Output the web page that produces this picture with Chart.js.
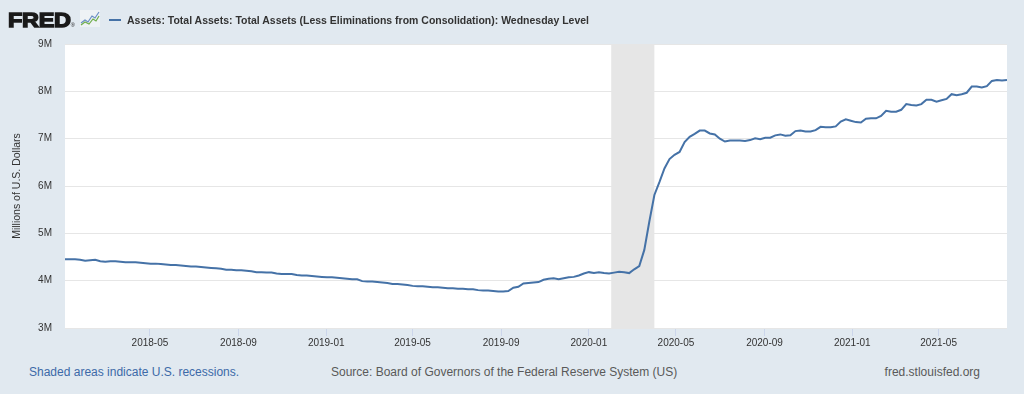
<!DOCTYPE html>
<html>
<head>
<meta charset="utf-8">
<title>FRED - Total Assets</title>
<script src="https://cdn.jsdelivr.net/npm/chart.js@4.4.1/dist/chart.umd.min.js"></script>
<style>
  html, body { margin: 0; padding: 0; }
  body {
    width: 1024px; height: 394px; overflow: hidden; position: relative;
    background: #e1e9f0;
    font-family: "Liberation Sans", Arial, Helvetica, sans-serif;
  }
  #wrap { position: absolute; left: 0; top: 0; width: 1024px; height: 360px; }
  .abs { position: absolute; white-space: nowrap; }
  #logo { left: 8px; top: 9px; font-size: 21px; line-height: 21px; font-weight: bold; color: #1a1a1a;
          letter-spacing: -0.3px; -webkit-text-stroke: 1.4px #1a1a1a;
          transform: scaleX(1.12); transform-origin: left top; }
  #logo sup { font-size: 5px; font-weight: normal; vertical-align: baseline; letter-spacing: 0;
              -webkit-text-stroke: 0; }
  #icon { left: 80px; top: 10px; }
  #swatch { left: 109px; top: 19px; width: 12px; height: 2px; background: #4572a7; }
  #title { left: 127px; top: 15px; font-size: 11px; line-height: 11px; font-weight: bold; color: #333;
           transform-origin: left top; }
  .foot { top: 366px; font-size: 12px; line-height: 12px; }
  #shaded { left: 29px; color: #3d6aa8; }
  #source { left: 331px; color: #595959; }
  #site { right: 44px; color: #595959; }
</style>
</head>
<body>
<div id="wrap"><canvas id="chart" width="1024" height="360"></canvas></div>

<div id="logo" class="abs">FRED<sup>&reg;</sup></div>
<svg id="icon" class="abs" width="20" height="17" viewBox="0 0 20 17">
  <rect x="0" y="0" width="20" height="17" fill="#eef2f5"/>
  <polyline points="1,13 5,10 8,12 12,6 15,8 19,2" fill="none" stroke="#6a8fc4" stroke-width="1.2"/>
  <polyline points="1,15 5,12 9,14 13,9 16,11 19,6" fill="none" stroke="#6fae4a" stroke-width="1.2"/>
</svg>
<div id="swatch" class="abs"></div>
<div id="title" class="abs">Assets: Total Assets: Total Assets (Less Eliminations from Consolidation): Wednesday Level</div>

<div id="shaded" class="abs foot">Shaded areas indicate U.S. recessions.</div>
<div id="source" class="abs foot">Source: Board of Governors of the Federal Reserve System (US)</div>
<div id="site" class="abs foot">fred.stlouisfed.org</div>

<script>
// weekly (Wednesday) observations, first one on this date
const firstWeek = "2018-01-03";

// total assets, trillions of dollars (chart shows millions)
const assetsTrillions = [
  4.45, 4.45, 4.45, 4.44, 4.42, 4.43, 4.44, 4.41, 4.40, 4.41,
  4.41, 4.40, 4.39, 4.39, 4.39, 4.38, 4.37, 4.36, 4.36, 4.35,
  4.34, 4.33, 4.33, 4.32, 4.31, 4.30, 4.30, 4.29, 4.28, 4.27,
  4.26, 4.25, 4.23, 4.23, 4.22, 4.22, 4.21, 4.20, 4.18, 4.18,
  4.17, 4.17, 4.15, 4.14, 4.14, 4.14, 4.12, 4.11, 4.11, 4.10,
  4.09, 4.08, 4.07, 4.07, 4.06, 4.05, 4.04, 4.03, 4.03, 3.99,
  3.98, 3.98, 3.97, 3.96, 3.95, 3.93, 3.93, 3.92, 3.91, 3.89,
  3.88, 3.88, 3.87, 3.86, 3.86, 3.85, 3.84, 3.84, 3.83, 3.83,
  3.82, 3.82, 3.80, 3.79, 3.79, 3.78, 3.77, 3.77, 3.78, 3.85,
  3.87, 3.94, 3.95, 3.96, 3.97, 4.02, 4.04, 4.05, 4.03, 4.05,
  4.07, 4.08, 4.11, 4.15, 4.18, 4.16, 4.18, 4.16, 4.15, 4.17,
  4.19, 4.18, 4.16, 4.24, 4.31, 4.65, 5.25, 5.81, 6.08, 6.37,
  6.57, 6.66, 6.72, 6.93, 7.04, 7.10, 7.17, 7.17, 7.11, 7.09,
  7.00, 6.94, 6.96, 6.96, 6.96, 6.95, 6.97, 7.01, 6.99, 7.02,
  7.02, 7.07, 7.09, 7.06, 7.07, 7.16, 7.17, 7.15, 7.15, 7.18,
  7.25, 7.24, 7.24, 7.26, 7.36, 7.41, 7.38, 7.35, 7.34, 7.42,
  7.43, 7.43, 7.48, 7.59, 7.57, 7.57, 7.61, 7.73, 7.71, 7.70,
  7.73, 7.82, 7.82, 7.78, 7.81, 7.84, 7.94, 7.92, 7.94, 7.97,
  8.10, 8.10, 8.08, 8.11, 8.22, 8.24, 8.23, 8.24
];

const tickMonths = ["2018-05", "2018-09", "2019-01", "2019-05", "2019-09",
                    "2020-01", "2020-05", "2020-09", "2021-01", "2021-05"];
const yTicks = [3, 4, 5, 6, 7, 8, 9];
const recessions = [["2020-02-01", "2020-04-01"]];

const DAY = 86400000;
const toMs = (s) => Date.parse(s + "T00:00:00Z");
const startMs = toMs(firstWeek);
const points = assetsTrillions.map((v, i) => ({ x: startMs + i * 7 * DAY, y: v * 1e6 }));

const plotDecor = {
  id: "plotDecor",
  beforeDraw(chart) {
    const { ctx, chartArea: a } = chart;
    ctx.save();
    ctx.fillStyle = "#ffffff";
    ctx.fillRect(a.left, a.top, a.width, a.height);
    ctx.restore();
  },
  beforeDatasetsDraw(chart) {
    const { ctx, chartArea: a, scales } = chart;
    ctx.save();
    ctx.fillStyle = "#e6e6e6";
    recessions.forEach(([from, to]) => {
      const x0 = scales.x.getPixelForValue(toMs(from));
      const x1 = scales.x.getPixelForValue(toMs(to));
      ctx.fillRect(x0, a.top, x1 - x0, a.height);
    });
    ctx.restore();
  },
};

new Chart(document.getElementById("chart").getContext("2d"), {
  type: "line",
  data: {
    datasets: [{
      data: points,
      borderColor: "#4572a7",
      borderWidth: 2,
      pointRadius: 0,
      tension: 0,
      fill: false,
    }],
  },
  plugins: [plotDecor],
  options: {
    responsive: false,
    animation: false,
    devicePixelRatio: 1,
    layout: { padding: { top: 44, right: 17, left: 0, bottom: 0 } },
    plugins: { legend: { display: false }, tooltip: { enabled: false } },
    scales: {
      x: {
        type: "linear",
        min: points[0].x,
        max: points[points.length - 1].x,
        afterFit(scale) { scale.height = 32; },
        afterBuildTicks(scale) {
          scale.ticks = tickMonths.map((m) => ({ value: toMs(m + "-01") }));
        },
        grid: { drawOnChartArea: false, drawTicks: true, tickLength: 8, color: "#ccd6eb" },
        border: { display: false },
        ticks: {
          autoSkip: false,
          maxRotation: 0,
          padding: 1,
          color: "#333",
          font: { family: "'Liberation Sans', Arial, sans-serif", size: 10 },
          callback: (value) => new Date(value).toISOString().slice(0, 7),
        },
      },
      y: {
        min: yTicks[0] * 1e6,
        max: yTicks[yTicks.length - 1] * 1e6,
        afterFit(scale) { scale.width = 65; },
        afterBuildTicks(scale) {
          scale.ticks = yTicks.map((v) => ({ value: v * 1e6 }));
        },
        grid: { drawTicks: false, color: "#e6e6e6", lineWidth: 1 },
        border: { display: false },
        ticks: {
          padding: 13,
          color: "#333",
          font: { family: "'Liberation Sans', Arial, sans-serif", size: 10 },
          callback: (value) => value / 1e6 + "M",
        },
        title: {
          display: true,
          text: "Millions of U.S. Dollars",
          color: "#333",
          font: { family: "'Liberation Sans', Arial, sans-serif", size: 10.5 },
          padding: { top: 11, bottom: 0 },
        },
      },
    },
  },
});

// squeeze the series title to the width it has in the FRED header
const title = document.getElementById("title");
const w = title.getBoundingClientRect().width;
title.style.transform = "scaleX(" + (462 / w) + ")";
</script>
</body>
</html>
